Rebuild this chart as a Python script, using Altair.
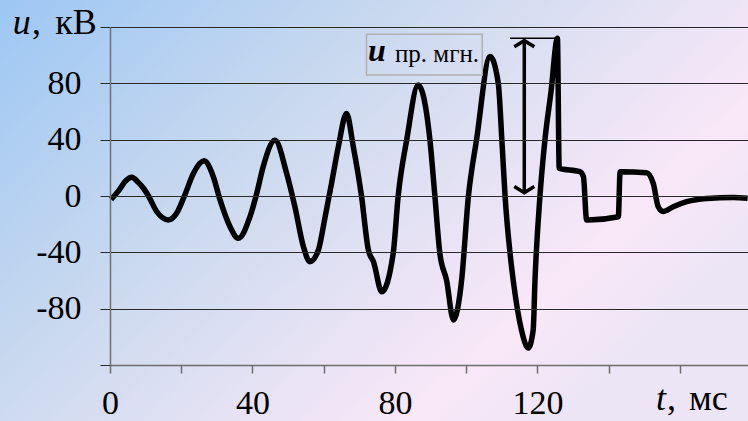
import altair as alt
import pandas as pd

# waveform
t_ms = [0.3, 2.5, 4.5, 6.1, 8.0, 9.4, 10.8, 13.1, 16.4, 18.7, 21.0, 23.4, 26.4, 29.0, 30.9,
        33.7, 36.0, 39.3, 41.2, 43.0, 46.3, 49.6, 51.9, 54.3, 56.1, 58.5, 60.4, 62.2,
        64.1, 66.4, 68.3, 70.6, 72.5, 74.0, 76.3, 79.5, 80.9, 83.3, 86.5, 89.8, 91.2,
        92.6, 94.5, 96.4, 98.7, 100.6, 102.9, 106.7, 109.0, 110.0, 110.9, 112.3, 113.2,
        115.5, 117.4, 118.8, 119.3, 120.7, 122.1, 123.8, 125.6, 126.1,
        131.9, 132.9, 133.8, 134.3, 142.7, 143.2, 150.6, 152.5, 153.9, 155.3, 158.1,
        161.9, 167.5, 175.0, 179.0]
u_kv = [-2.5, 4, 11, 13.3, 9.5, 5.5, 0, -11, -17, -12.3, 0.7, 16, 25, 13.7, -2.8,
        -21.8, -30, -14.7, 2, 20.8, 39.5, 16, -7.6, -36, -46.6, -38.3, -14.7, 9,
        35, 58.5, 35, 0, -38, -47, -68, -40.7, 0, 40, 78.8, 40, 0,
        -40.7, -60, -88, -60, -0.5, 40, 99, 80, 40, 0, -40.7, -60,
        -95, -108, -95, -60, 0, 40, 74, 112, 19.6,
        17.3, 13.7, -17, -17, -14.7, 17.3, 16.5, 9, -7.6, -11, -7.6,
        -4, -1.7, -1, -1.6]

y_ticks = [-120, -80, -40, 0, 40, 80, 120]
x_ticks = [0, 20, 40, 60, 80, 100, 120, 140, 160]

arrow_t = [116.3]
arrow_from = [2.3]
arrow_to = [110.3]
cap_t1 = [112.3]
cap_t2 = [125.9]
cap_u = [112.0]
box_t = [72.0]
box_t2 = [104.5]
box_u = [114.8]
box_u2 = [85.9]

W, H = 638, 338
SERIF = "Liberation Serif"

wave = pd.DataFrame({"t": t_ms, "u": u_kv})

xscale = alt.Scale(domain=[0, 179.1], nice=False, zero=False)
yscale = alt.Scale(domain=[-120, 120], nice=False, zero=False)

one = pd.DataFrame({"a": [0]})

bg = alt.Chart(one).mark_rect(
    color=alt.Gradient(
        gradient="linear",
        stops=[
            alt.GradientStop(color="#9dc7f4", offset=0),
            alt.GradientStop(color="#c9d9ef", offset=0.4),
            alt.GradientStop(color="#dfe0f3", offset=0.6),
            alt.GradientStop(color="#f9e8f8", offset=0.85),
            alt.GradientStop(color="#ebe5f5", offset=1),
        ],
        x1=0, y1=0, x2=1, y2=0.6,
    )
).encode(x=alt.value(-110), x2=alt.value(W), y=alt.value(-27), y2=alt.value(H + 56))

line = alt.Chart(wave).mark_line(
    color="black", strokeWidth=5.5, interpolate="monotone", strokeJoin="round"
).encode(
    x=alt.X("t:Q", scale=xscale, axis=alt.Axis(
        values=x_ticks, grid=False, domainColor="#6e6e6e", domainWidth=1.5,
        tickColor="#6e6e6e", tickSize=8, tickWidth=1.5,
        labelExpr="datum.value % 40 == 0 && datum.value < 160 ? datum.label : ''",
        labelFont=SERIF, labelFontSize=34, labelColor="black", labelPadding=13,
        labelFlush=False, labelOverlap=False, labelBound=False, title=None, zindex=1)),
    y=alt.Y("u:Q", scale=yscale, axis=alt.Axis(
        values=y_ticks, grid=True, gridColor="#2a2a2a", gridWidth=1,
        domainColor="#707070", domainWidth=1.5, tickColor="#2a2a2a", tickSize=10,
        labelExpr="abs(datum.value) == 120 ? '' : (datum.value < 0 ? '-' + abs(datum.value) : '' + datum.value)",
        labelFont=SERIF, labelFontSize=34, labelColor="black", labelPadding=19,
        labelOverlap=False, labelBound=False, title=None, zindex=1)),
)

arr_df = pd.DataFrame({"t": arrow_t, "u1": arrow_from, "u2": arrow_to})
arrow = alt.Chart(arr_df).mark_rule(color="black", strokeWidth=3.5).encode(
    x="t:Q", y="u1:Q", y2="u2:Q")
head_top = alt.Chart(arr_df).mark_point(
    shape="M-1,0.62L0,0L1,0.62", size=400, filled=False, color="black",
    strokeWidth=3.5, opacity=1).encode(x="t:Q", y="u2:Q")
head_bot = alt.Chart(arr_df).mark_point(
    shape="M-1,-0.62L0,0L1,-0.62", size=400, filled=False, color="black",
    strokeWidth=3.5, opacity=1).encode(x="t:Q", y="u1:Q")

cap_df = pd.DataFrame({"t1": cap_t1, "t2": cap_t2, "u": cap_u})
cap = alt.Chart(cap_df).mark_rule(color="black", strokeWidth=1.5).encode(
    x="t1:Q", x2="t2:Q", y="u:Q")

box_df = pd.DataFrame({"t1": box_t, "t2": box_t2, "u1": box_u, "u2": box_u2})
box = alt.Chart(box_df).mark_rect(
    fillOpacity=0, stroke="#b0b0b0", strokeWidth=1.5).encode(
    x="t1:Q", x2="t2:Q", y="u1:Q", y2="u2:Q")

ann_u = alt.Chart(pd.DataFrame({"t": [72.4], "u": [95.8], "s": ["u"]})).mark_text(
    font=SERIF, fontSize=32, fontStyle="italic", fontWeight="bold", color="black",
    align="left", baseline="alphabetic").encode(x="t:Q", y="u:Q", text="s:N")
ann_sub = alt.Chart(pd.DataFrame({"t": [103.6], "u": [95.2], "s": ["пр. мгн."]})).mark_text(
    font=SERIF, fontSize=25, color="black",
    align="right", baseline="alphabetic").encode(x="t:Q", y="u:Q", text="s:N")

def label(txt, x, y, align, italic=False, size=36):
    kw = dict(font=SERIF, fontSize=size, color="black", align=align,
              baseline="alphabetic", text=txt)
    if italic:
        kw["fontStyle"] = "italic"
    return alt.Chart(one).mark_text(**kw).encode(x=alt.value(x), y=alt.value(y))

ylab_u = label("u", -97.3, 7, "left", italic=True)
ylab_c = label(",", -78, 7, "left")
ylab_rest = label("кВ", -13.3, 7, "right")
xlab_t = label("t", 546, 383, "left", italic=True)
xlab_c = label(",", 557, 383, "left")
xlab_rest = label("мс", 617.7, 383, "right")

chart = alt.layer(
    bg, line, box, cap, arrow, head_top, head_bot, ann_u, ann_sub,
    ylab_u, ylab_c, ylab_rest, xlab_t, xlab_c, xlab_rest
).properties(
    width=W, height=H,
    autosize=alt.AutoSizeParams(type="none"),
    padding={"left": 110, "top": 27, "right": 0, "bottom": 56},
    background="#d8def2",
).configure_view(stroke=None)

chart.save("out.html", embed_options={"renderer": "svg", "actions": False})
